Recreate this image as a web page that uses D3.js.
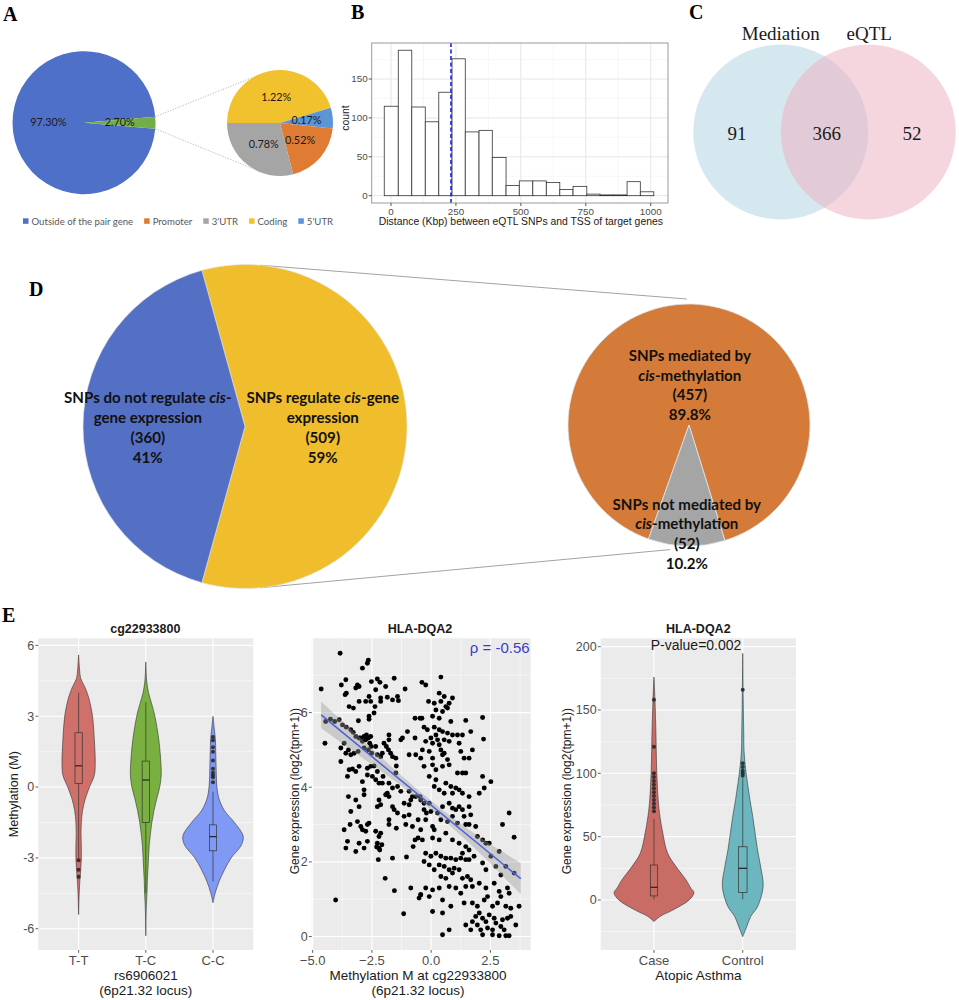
<!DOCTYPE html>
<html><head><meta charset="utf-8">
<script src="https://cdn.jsdelivr.net/npm/d3@7"></script>
<style>body{margin:0;background:#fff}svg{display:block}</style>
</head><body>
<svg id="chart" width="959" height="1000"></svg>
<script>
// ================= DATA =================
// Panel A
const aMainNames = ["Outside of the pair gene", "Inside the pair gene"];
const aMainValues = [97.30, 2.70];
const aSubNames = ["Coding", "5'UTR", "Promoter", "3'UTR"];
const aSubValues = [1.22, 0.17, 0.52, 0.78];
const aLegendNames = ["Outside of the pair gene", "Promoter", "3'UTR", "Coding", "5'UTR"];

// Panel B
const bBinEdges = [-26, 28, 80, 132, 184, 235, 286, 339, 390, 443, 494, 546, 598, 650, 701, 754, 805, 856, 909, 960, 1012];
const bCounts = [115, 187, 114, 95, 133, 176, 82, 84, 49, 13, 19, 19, 17, 8, 12, 2, 1, 1, 18, 5];
const bMedian = 231;
const bXTicks = [0, 250, 500, 750, 1000];
const bYTicks = [0, 50, 100, 150];

// Panel C
const cSetNames = ["Mediation", "eQTL"];
const cRegionCounts = [91, 366, 52];

// Panel D
const dMainValues = [509, 360];
const dMainNames = [
  [[["SNPs regulate ", 0], ["cis", 1], ["-gene", 0]], [["expression", 0]]],
  [[["SNPs do not regulate ", 0], ["cis", 1], ["-", 0]], [["gene expression", 0]]]
];
const dSubValues = [457, 52];
const dSubNames = [
  [[["SNPs mediated by", 0]], [["cis", 1], ["-methylation", 0]]],
  [[["SNPs not mediated by", 0]], [["cis", 1], ["-methylation", 0]]]
];

// Panel E left: violins (value, relative density)
const eGenotypes = ["T-T", "T-C", "C-C"];
const violinTT = [[5.6,0],[5.0,0.03],[4.6,0.07],[4.25,0.2],[3.8,0.33],[3.0,0.46],[2.0,0.52],[1.0,0.55],[0.5,0.52],[0,0.36],[-0.5,0.22],[-1,0.13],[-1.5,0.09],[-2,0.08],[-2.5,0.09],[-3,0.09],[-3.5,0.07],[-4,0.04],[-4.5,0.02],[-5.4,0]];
const violinTC = [[5.3,0],[4.5,0.03],[4.0,0.09],[3.5,0.2],[3.0,0.3],[2.0,0.43],[1.0,0.5],[0.5,0.51],[0,0.46],[-0.5,0.36],[-1,0.27],[-1.5,0.2],[-2,0.15],[-2.5,0.11],[-3,0.09],[-3.5,0.07],[-4,0.05],[-4.5,0.04],[-5,0.02],[-6.3,0]];
const violinCC = [[3.0,0],[2.5,0.04],[2.0,0.08],[1.5,0.09],[1.0,0.1],[0.5,0.11],[0,0.13],[-0.5,0.2],[-1,0.38],[-1.5,0.71],[-2,0.98],[-2.2,1.0],[-2.5,0.92],[-3,0.6],[-3.5,0.38],[-4,0.2],[-4.5,0.07],[-4.9,0]];
// box stats: [lower whisker, q1, median, q3, upper whisker]
const boxTT = [-3.0, 0.15, 0.9, 2.3, 4.0];
const boxTC = [-4.5, -1.5, 0.3, 1.1, 3.6];
const boxCC = [-4.0, -2.7, -2.1, -1.6, -0.2];
const outTT = [-3.1, -3.5, -3.8];
const outTC = [];
const outCC = [0.2, 0.42, 0.5, 0.61, 0.78, 1.13, 1.5, 1.69, 1.98, 2.12];
const eLeftYTicks = [-6, -3, 0, 3, 6];

// Panel E middle: scatter (methylation M, expression)
const eScatter = [
[-3.84,7.59],[-2.65,7.40],[-2.69,7.32],[-2.90,7.19],[-4.64,6.63],[-3.79,6.74],[-3.60,6.88],[-3.11,6.74],[-3.04,6.70],[-3.18,6.66],
[-2.52,6.83],[-2.27,6.90],[-2.16,6.81],[-2.34,6.61],[-1.92,6.70],[-1.56,6.92],[-1.10,6.63],[-3.58,6.52],[-3.63,6.48],[-2.62,6.43],
[-2.76,6.30],[-2.55,6.30],[-3.04,6.30],[-2.13,6.39],[-2.13,6.30],[-1.85,6.41],[-1.63,6.34],[-1.42,6.43],[-1.38,6.32],[-3.46,6.16],
[-3.28,6.12],[-2.37,6.16],[-2.41,5.99],[-2.62,5.90],[-2.62,5.82],[-0.68,5.85],[-0.47,5.85],[-3.07,5.78],[-4.25,5.82],[-4.45,5.76],
[-4.07,5.76],[-3.88,5.81],[-3.74,5.67],[-3.58,5.61],[-3.39,5.54],[-3.29,5.47],[-3.18,5.36],[-2.97,5.32],[-2.83,5.36],[-2.73,5.40],
[-2.65,5.32],[-2.55,5.36],[-2.76,5.27],[-2.59,5.18],[-2.53,5.09],[-2.90,5.23],[-3.04,5.32],[-1.78,5.40],[-1.78,5.27],[-1.28,5.27],
[-1.21,5.32],[-1.00,5.49],[-0.68,5.32],[-4.48,5.18],[-3.81,5.05],[-3.67,5.18],[-3.60,4.91],[-3.49,5.00],[-3.39,4.87],[-3.25,4.91],
[-3.08,4.96],[-2.83,5.05],[-2.65,5.00],[-2.51,4.91],[-2.34,5.09],[-2.27,4.87],[-2.13,4.82],[-2.06,4.91],[-1.99,5.18],[-1.89,5.09],
[-1.80,5.00],[-1.71,4.91],[-1.63,4.82],[-1.49,4.78],[-0.93,4.87],[-0.65,4.87],[-3.81,4.69],[-3.46,4.47],[-3.32,4.49],[-3.18,4.42],
[-3.53,4.29],[-3.04,4.56],[-2.69,4.51],[-2.55,4.56],[-2.41,4.57],[-2.27,4.42],[-2.69,4.33],[-2.48,4.29],[-2.90,4.15],[-2.34,4.20],
[-2.20,4.11],[-2.03,4.29],[-2.06,4.11],[-1.78,4.11],[-1.47,4.57],[-1.49,4.38],[-1.42,4.02],[-1.28,3.89],[-1.63,3.98],[-0.93,3.89],
[-0.65,3.75],[-0.47,3.75],[-3.49,3.75],[-3.18,3.66],[-2.83,3.93],[-2.83,3.80],[-3.04,3.48],[-3.39,3.35],[-1.92,3.80],[-1.78,3.75],
[-1.85,3.84],[-2.20,3.66],[-2.13,3.53],[-2.27,3.48],[-1.63,3.48],[-1.14,3.57],[-0.93,3.53],[-0.86,3.66],[-0.79,3.75],[-1.78,3.13],
[-1.56,3.40],[-1.42,3.31],[-1.14,3.22],[-0.93,3.26],[-3.11,3.08],[-2.97,2.95],[-2.90,2.86],[-2.76,2.82],[-2.69,3.00],[-2.62,3.04],
[-3.67,2.86],[-3.42,3.00],[-2.34,2.82],[-2.20,2.68],[-2.13,2.77],[-1.78,3.00],[-1.47,2.90],[-1.07,3.00],[-0.79,2.95],[-0.55,3.13],
[-0.44,2.86],[-3.53,2.55],[-3.60,2.37],[-3.18,2.28],[-3.04,2.50],[-2.83,2.37],[-2.69,2.55],[-2.27,2.50],[-2.20,2.37],[-2.08,2.46],
[-2.30,2.40],[-2.17,2.32],[-2.23,2.06],[-1.63,2.10],[-1.04,2.13],[-0.76,2.41],[-0.68,2.59],[-0.55,2.64],[-1.94,1.56],[-1.55,1.23],
[-0.86,1.30],[-0.51,1.03],[-0.44,1.12],[-4.03,0.98],[-1.16,0.61],
[-0.39,6.81],[-0.23,6.74],[0.41,6.95],[0.34,6.52],[0.55,6.43],[0.90,6.39],[-0.11,6.30],[0.13,6.25],[0.41,6.30],[0.76,6.25],
[0.62,6.16],[0.20,6.07],[0.48,6.03],[0.69,6.12],[-0.39,5.85],[0.06,5.90],[0.34,5.85],[0.83,5.76],[1.46,5.79],[2.17,5.87],
[-0.30,5.61],[-0.16,5.54],[0.13,5.61],[0.34,5.54],[0.48,5.49],[0.20,5.40],[-0.01,5.32],[0.69,5.45],[0.90,5.40],[1.11,5.40],
[1.32,5.40],[1.67,5.49],[2.21,5.29],[-0.23,5.23],[0.06,5.18],[0.27,5.27],[0.34,5.14],[0.55,5.27],[0.76,5.23],[1.18,5.18],
[-0.37,5.00],[-0.08,4.96],[0.41,5.00],[0.48,4.87],[0.55,4.91],[0.06,4.78],[1.25,4.96],[1.39,4.78],[1.60,4.78],[1.74,5.00],
[-0.44,4.78],[-0.30,4.56],[0.06,4.60],[0.20,4.47],[0.48,4.56],[0.76,4.60],[0.69,4.74],[1.11,4.38],[1.32,4.38],[1.46,4.38],
[2.17,4.29],[2.52,4.15],[-0.08,4.29],[0.20,4.20],[0.13,4.02],[0.34,3.93],[0.55,3.84],[0.62,4.11],[0.83,4.02],[0.90,3.84],
[1.04,3.98],[1.18,3.93],[1.32,3.84],[1.60,3.75],[2.03,3.84],[2.24,3.98],[-0.44,3.66],[-0.30,3.57],[-0.08,3.57],[-0.30,3.40],
[-0.20,3.31],[-0.01,3.35],[0.27,3.31],[0.48,3.48],[0.76,3.57],[0.90,3.44],[1.04,3.40],[1.18,3.48],[1.32,3.40],[1.60,3.48],
[1.67,3.26],[1.39,3.22],[0.90,3.22],[0.69,3.08],[-0.23,3.13],[0.06,2.95],[0.13,2.86],[0.41,3.13],[1.11,3.04],[1.46,3.00],
[1.60,3.00],[1.88,2.95],[1.95,2.68],[2.17,2.59],[2.31,2.50],[2.45,2.50],[3.29,3.31],[3.01,3.00],[3.50,2.66],[0.06,2.64],
[-0.37,2.59],[0.34,2.59],[0.62,2.77],[0.90,2.59],[1.18,2.50],[1.46,2.41],[1.60,2.32],[1.32,2.23],[-0.23,2.23],[-0.01,2.15],
[0.20,2.23],[0.41,2.15],[0.62,2.10],[0.83,2.10],[1.04,2.06],[1.25,2.10],[1.46,2.06],[-0.30,2.01],[-0.08,1.92],[0.13,1.79],
[0.34,1.92],[0.55,1.88],[0.76,1.79],[0.97,1.83],[1.18,1.79],[1.60,2.06],[1.81,2.15],[2.17,1.97],[2.52,2.15],[2.87,2.28],
[2.73,1.88],[2.31,1.79],[2.94,1.65],[3.15,1.88],[3.50,1.70],[0.41,1.61],[0.62,1.56],[0.90,1.70],[1.32,1.56],[1.53,1.61],
[1.67,1.52],[-0.23,1.30],[0.06,1.25],[0.34,1.30],[0.76,1.34],[1.04,1.30],[1.25,1.16],[1.46,1.34],[1.74,1.34],[2.03,1.43],
[2.31,1.30],[2.66,1.43],[2.87,1.21],[3.22,1.30],[3.29,1.16],[-0.44,1.12],[-0.08,1.07],[0.48,0.98],[0.83,0.81],[0.06,0.67],
[0.48,0.63],[1.39,0.90],[1.74,0.90],[1.95,0.81],[2.24,0.98],[2.38,1.07],[2.59,0.81],[2.80,0.90],[2.94,1.07],[3.15,0.81],
[3.36,0.76],[3.71,0.81],[1.46,0.31],[1.74,0.40],[1.88,0.54],[2.03,0.63],[2.17,0.49],[2.31,0.40],[2.45,0.58],[2.66,0.49],
[2.73,0.36],[3.01,0.45],[3.22,0.49],[3.36,0.54],[3.57,0.31],[1.67,0.18],[1.95,0.31],[2.09,0.18],[2.38,0.23],[2.59,0.18],
[2.94,0.27],[3.08,0.18],[0.48,0.05],[0.76,0.18],[2.17,0.05],[2.59,0.05],[2.87,0.02],[3.15,0.02],[3.29,0.02]
];
const eFitIntercept = 3.52, eFitSlope = -0.521, eFitRange = [-4.64, 3.78];
const eCiX = [-4.64, -3, -1.5, 0, 1.5, 3, 3.78];
const eCiHalf = [0.36, 0.25, 0.15, 0.12, 0.17, 0.32, 0.42];
const eRho = -0.56;
const eMidXTicks = [-5, -2.5, 0, 2.5];
const eMidYTicks = [0, 2, 4, 6];

// Panel E right: Atopic asthma violins
const eGroups = ["Case", "Control"];
const violinCase = [[176,0],[158,0.025],[131,0.05],[105,0.066],[79,0.106],[66,0.15],[53,0.22],[37,0.34],[26,0.56],[16,0.8],[9,0.93],[5.8,1.0],[0,0.88],[-8,0.47],[-13,0.15],[-17,0]];
const violinControl = [[194.7,0],[158,0.012],[131,0.025],[118,0.032],[105,0.066],[92,0.12],[79,0.18],[66,0.25],[52.6,0.31],[39.5,0.37],[26,0.45],[10.5,0.51],[-5.3,0.37],[-13,0.2],[-21,0.1],[-29,0]];
const boxCase = [0.5, 3.2, 10, 27.6, 64];
const boxControl = [0.5, 5.8, 25, 42, 96];
const outCase = [158, 121, 100, 97, 94, 91, 88, 85, 82, 79, 76, 73, 70];
const outControl = [166, 108, 105, 102, 100, 98];
const eRightYTicks = [0, 50, 100, 150, 200];
const ePValue = "0.002";

// ================= DRAW =================
const svg = d3.select("#chart");
const serif = "'Liberation Serif','Times New Roman',serif";
const sans = "'Liberation Sans',Arial,sans-serif";
const cal = "Lato,'Noto Sans',sans-serif";
const deg = Math.PI / 180;

function txt(g, x, y, s, o = {}) {
  const t = g.append("text").attr("x", x).attr("y", y).text(s)
    .attr("font-family", o.ff || sans).attr("font-size", o.fs || 12)
    .attr("fill", o.fill || "#1a1a1a").attr("text-anchor", o.anchor || "middle");
  if (o.fw) t.attr("font-weight", o.fw);
  return t;
}

// Panel letters
[["A",3,21],["B",351,19],["C",689,19],["D",29,296],["E",2,622]].forEach(([l,x,y]) =>
  txt(svg, x, y, l, {ff: serif, fs: 20, fw: "bold", anchor: "start", fill: "#000"}));

// ---------- Panel A ----------
(function(){
  const g = svg.append("g");
  const mainC = [84, 122.7], mainR = 71.5;
  const subC = [280, 123], subR = 53;
  const mainColors = ["#4f70c8", "#72ad47"];
  const subColors = ["#f2c12e", "#5b95d6", "#e07b34", "#a5a5a5"];
  const total = d3.sum(aMainValues);
  const st = Math.PI / 2 + (aMainValues[1] / total) * Math.PI;
  const pm = d3.pie().sort(null).startAngle(st).endAngle(st + 2 * Math.PI)(aMainValues);
  const arcM = d3.arc().innerRadius(0).outerRadius(mainR);
  const gm = g.append("g").attr("transform", `translate(${mainC})`);
  gm.selectAll("path").data(pm).join("path").attr("d", arcM).attr("fill", (d,i) => mainColors[i]);
  gm.selectAll("text").data(pm).join("text")
    .attr("transform", d => `translate(${arcM.centroid(d)})`).attr("dy", "0.35em")
    .attr("text-anchor", "middle").attr("font-family", cal).attr("font-size", 10.8).attr("fill", "#1a1a1a")
    .text(d => d3.format(".2f")(d.value) + "%");
  const ps = d3.pie().sort(null).startAngle(-Math.PI / 2).endAngle(1.5 * Math.PI)(aSubValues);
  const arcS = d3.arc().innerRadius(0).outerRadius(subR);
  const gs = g.append("g").attr("transform", `translate(${subC})`);
  gs.selectAll("path").data(ps).join("path").attr("d", arcS).attr("fill", (d,i) => subColors[i]);
  gs.selectAll("text").data(ps).join("text")
    .attr("transform", d => `translate(${arcS.centroid(d)})`).attr("dy", "0.35em")
    .attr("text-anchor", "middle").attr("font-family", cal).attr("font-size", 10.8).attr("fill", "#1a1a1a")
    .text(d => d3.format(".2f")(d.value) + "%");
  // connector dotted lines
  const gEdge = pm[1];
  [[gEdge.startAngle, 330], [gEdge.endAngle, 210]].forEach(([a1, a2d]) => {
    const a2 = a2d * deg;
    g.append("line")
      .attr("x1", mainC[0] + Math.sin(a1) * mainR).attr("y1", mainC[1] - Math.cos(a1) * mainR)
      .attr("x2", subC[0] + Math.sin(a2) * subR).attr("y2", subC[1] - Math.cos(a2) * subR)
      .attr("stroke", "#a6a6a6").attr("stroke-width", 0.8).attr("stroke-dasharray", "1.2,1.5");
  });
  // legend
  const legColor = {"Outside of the pair gene": mainColors[0], "Promoter": subColors[2], "3'UTR": subColors[3], "Coding": subColors[0], "5'UTR": subColors[1]};
  let lx = 23;
  aLegendNames.forEach(n => {
    g.append("rect").attr("x", lx).attr("y", 218.3).attr("width", 5.5).attr("height", 5.5).attr("fill", legColor[n]);
    const t = txt(g, lx + 8.5, 224.5, n, {ff: cal, fs: 9.6, anchor: "start", fill: "#595959"});
    lx += 8.5 + t.node().getComputedTextLength() + 11;
  });
})();

// ---------- Panel B ----------
(function(){
  const g = svg.append("g");
  const L = 371.7, R = 668, T = 43, B = 203;
  const x = d3.scaleLinear().domain([-74.3, 1066.6]).range([L, R]);
  const y = d3.scaleLinear().domain([-9.4, 196.3]).range([B, T]);
  g.append("rect").attr("x", L).attr("y", T).attr("width", R - L).attr("height", B - T).attr("fill", "#fff");
  const xMinor = [125, 375, 625, 875], yMinor = [25, 75, 125, 175];
  xMinor.forEach(v => g.append("line").attr("x1", x(v)).attr("x2", x(v)).attr("y1", T).attr("y2", B).attr("stroke", "#f2f2f2").attr("stroke-width", 0.6));
  yMinor.forEach(v => g.append("line").attr("x1", L).attr("x2", R).attr("y1", y(v)).attr("y2", y(v)).attr("stroke", "#f2f2f2").attr("stroke-width", 0.6));
  bXTicks.forEach(v => g.append("line").attr("x1", x(v)).attr("x2", x(v)).attr("y1", T).attr("y2", B).attr("stroke", "#e6e6e6").attr("stroke-width", 1));
  bYTicks.forEach(v => g.append("line").attr("x1", L).attr("x2", R).attr("y1", y(v)).attr("y2", y(v)).attr("stroke", "#e6e6e6").attr("stroke-width", 1));
  g.selectAll("rect.bar").data(bCounts).join("rect").attr("class", "bar")
    .attr("x", (d,i) => x(bBinEdges[i])).attr("width", (d,i) => x(bBinEdges[i+1]) - x(bBinEdges[i]))
    .attr("y", d => y(d)).attr("height", d => y(0) - y(d))
    .attr("fill", "#fff").attr("stroke", "#333").attr("stroke-width", 0.8);
  g.append("line").attr("x1", x(bMedian)).attr("x2", x(bMedian)).attr("y1", T).attr("y2", B)
    .attr("stroke", "#1f1fe6").attr("stroke-width", 1.6).attr("stroke-dasharray", "4,2.5");
  g.append("rect").attr("x", L).attr("y", T).attr("width", R - L).attr("height", B - T).attr("fill", "none").attr("stroke", "#9a9a9a").attr("stroke-width", 1);
  bXTicks.forEach(v => {
    g.append("line").attr("x1", x(v)).attr("x2", x(v)).attr("y1", B).attr("y2", B + 3).attr("stroke", "#555");
    txt(g, x(v), B + 11.5, v, {fs: 9.8, fill: "#4d4d4d"});
  });
  bYTicks.forEach(v => {
    g.append("line").attr("x1", L - 3).attr("x2", L).attr("y1", y(v)).attr("y2", y(v)).attr("stroke", "#555");
    txt(g, L - 4, y(v) + 3.4, v, {fs: 9.8, fill: "#4d4d4d", anchor: "end"});
  });
  txt(g, (L + R) / 2 + 1, 224.5, "Distance (Kbp) between eQTL SNPs and TSS of target genes", {fs: 10.4});
  txt(g, 0, 0, "count", {fs: 10.4}).attr("transform", `translate(348.5,${(T + B) / 2 - 5}) rotate(-90)`);
})();

// ---------- Panel C ----------
(function(){
  const g = svg.append("g");
  const cy = 132, r = 87.5;
  const centers = [780.8, 868.3];
  const fills = ["#add1df", "#edadbd"];
  centers.forEach((cx, i) => g.append("circle").attr("cx", cx).attr("cy", cy).attr("r", r).attr("fill", fills[i]).attr("fill-opacity", 0.5));
  cSetNames.forEach((n, i) => txt(g, centers[i] + (i ? 1 : 0), 40, n, {ff: serif, fs: 19}));
  const pos = [737, 826.7, 912];
  cRegionCounts.forEach((v, i) => txt(g, pos[i], 139.5, v, {ff: serif, fs: 19}));
})();

// ---------- Panel D ----------
function blockText(g, cx, cy, lines, lh, fs) {
  const n = lines.length;
  lines.forEach((parts, k) => {
    const t = g.append("text").attr("x", cx).attr("y", cy + (k - (n - 1) / 2) * lh).attr("dy", "0.35em")
      .attr("text-anchor", "middle").attr("font-family", cal).attr("font-size", fs).attr("font-weight", "bold").attr("fill", "#111");
    parts.forEach(([s, it]) => t.append("tspan").text(s).attr("font-style", it ? "italic" : "normal"));
  });
}
(function(){
  const g = svg.append("g");
  const C1 = [245, 426.5], R1 = 162;
  const C2 = [689, 425], R2 = 121;
  // connectors
  [[5.3, 359], [174.7, 188.6]].forEach(([a, b]) => {
    g.append("line")
      .attr("x1", C1[0] + Math.sin(a * deg) * R1).attr("y1", C1[1] - Math.cos(a * deg) * R1)
      .attr("x2", C2[0] + Math.sin(b * deg) * (R2 + (b > 180 ? 5 : 0))).attr("y2", C2[1] - Math.cos(b * deg) * (R2 + (b > 180 ? 5 : 0)))
      .attr("stroke", "#a3a3a3").attr("stroke-width", 1);
  });
  const tot1 = d3.sum(dMainValues);
  const s1 = -(dMainValues[0] / tot1) * Math.PI + Math.PI / 2;
  const p1 = d3.pie().sort(null).startAngle(s1).endAngle(s1 + 2 * Math.PI)(dMainValues);
  const arc1 = d3.arc().innerRadius(0).outerRadius(R1);
  const g1 = g.append("g").attr("transform", `translate(${C1})`);
  const col1 = ["#f0be2d", "#5470c4"];
  g1.selectAll("path").data(p1).join("path").attr("d", arc1).attr("fill", (d,i) => col1[i]).attr("stroke", "#e3e3e3").attr("stroke-width", 0.6);
  const lr1 = [0.48, 0.6];
  p1.forEach((d, i) => {
    const a = (d.startAngle + d.endAngle) / 2, rr = lr1[i] * R1;
    const lines = dMainNames[i].concat([[["(" + d.value + ")", 0]], [[d3.format(".0f")(d.value / tot1 * 100) + "%", 0]]]);
    blockText(g1, Math.sin(a) * rr, -Math.cos(a) * rr + 1.5, lines, 20, 15.1);
  });
  const tot2 = d3.sum(dSubValues);
  const s2 = Math.PI + (dSubValues[1] / tot2) * Math.PI + 0.02;
  const p2 = d3.pie().sort(null).startAngle(s2).endAngle(s2 + 2 * Math.PI)(dSubValues);
  const arc2 = d3.arc().innerRadius(0).outerRadius(R2);
  const g2 = g.append("g").attr("transform", `translate(${C2})`);
  const col2 = ["#d57b39", "#a5a5a5"];
  g2.selectAll("path").data(p2).join("path").attr("d", arc2).attr("fill", (d,i) => col2[i]).attr("stroke", "#dde6ee").attr("stroke-width", 0.8);
  const lr2 = [0.33, 0.9];
  p2.forEach((d, i) => {
    const a = (d.startAngle + d.endAngle) / 2, rr = lr2[i] * R2;
    const lines = dSubNames[i].concat([[["(" + d.value + ")", 0]], [[d3.format(".1f")(d.value / tot2 * 100) + "%", 0]]]);
    blockText(g2, Math.sin(a) * rr, -Math.cos(a) * rr, lines, 19.7, 15.1);
  });
})();

// ---------- Panel E helpers ----------
const PT = 638.3, PB = 950;
function ggBg(g, L, R) {
  g.append("rect").attr("x", L).attr("y", PT).attr("width", R - L).attr("height", PB - PT).attr("fill", "#ebebeb");
}
function hline(g, L, R, yv, w) { g.append("line").attr("x1", L).attr("x2", R).attr("y1", yv).attr("y2", yv).attr("stroke", "#fff").attr("stroke-width", w); }
function vline(g, xv, w) { g.append("line").attr("x1", xv).attr("x2", xv).attr("y1", PT).attr("y2", PB).attr("stroke", "#fff").attr("stroke-width", w); }
function yTicks(g, L, y, ticks, fmt) {
  ticks.forEach(v => {
    g.append("line").attr("x1", L - 2.8).attr("x2", L).attr("y1", y(v)).attr("y2", y(v)).attr("stroke", "#333").attr("stroke-width", 0.8);
    txt(g, L - 4, y(v) + 4.3, fmt(v), {fs: 12.5, fill: "#4d4d4d", anchor: "end"});
  });
}
function xTicks(g, x, ticks, fmt) {
  ticks.forEach(v => {
    g.append("line").attr("x1", x(v)).attr("x2", x(v)).attr("y1", PB).attr("y2", PB + 2.8).attr("stroke", "#333").attr("stroke-width", 0.8);
    txt(g, x(v), PB + 14.5, fmt(v), {fs: 13, fill: "#4d4d4d"});
  });
}
function violin(g, cx, data, wScale, y, fill) {
  const area = d3.area().curve(d3.curveCatmullRom.alpha(0.5))
    .y(d => y(d[0])).x0(d => cx - wScale(d[1])).x1(d => cx + wScale(d[1]));
  g.append("path").attr("d", area(data)).attr("fill", fill).attr("stroke", "#333").attr("stroke-width", 0.6);
}
function boxplot(g, cx, bw, st, outs, y) {
  const [lo, q1, md, q3, hi] = st;
  g.append("line").attr("x1", cx).attr("x2", cx).attr("y1", y(hi)).attr("y2", y(q3)).attr("stroke", "#333").attr("stroke-width", 0.7);
  g.append("line").attr("x1", cx).attr("x2", cx).attr("y1", y(q1)).attr("y2", y(lo)).attr("stroke", "#333").attr("stroke-width", 0.7);
  g.append("rect").attr("x", cx - bw / 2).attr("y", y(q3)).attr("width", bw).attr("height", y(q1) - y(q3)).attr("fill", "none").attr("stroke", "#333").attr("stroke-width", 0.7);
  g.append("line").attr("x1", cx - bw / 2).attr("x2", cx + bw / 2).attr("y1", y(md)).attr("y2", y(md)).attr("stroke", "#222").attr("stroke-width", 1.2);
  outs.forEach(v => g.append("circle").attr("cx", cx).attr("cy", y(v)).attr("r", 2).attr("fill", "#222").attr("fill-opacity", 0.85));
}

// ---------- Panel E left ----------
(function(){
  const g = svg.append("g");
  const L = 38.3, R = 253.3;
  const x = d3.scalePoint().domain(eGenotypes).range([L, R]).padding(0.6);
  const y = d3.scaleLinear().domain([-6.9, 6.3]).range([PB, PT]);
  ggBg(g, L, R);
  [-4.5, -1.5, 1.5, 4.5].forEach(v => hline(g, L, R, y(v), 0.5));
  eLeftYTicks.forEach(v => hline(g, L, R, y(v), 1.1));
  eGenotypes.forEach(c => vline(g, x(c), 1.1));
  const w = d3.scaleLinear().domain([0, 1]).range([0, 0.45 * x.step()]);
  const cols = ["#d0706a", "#79b041", "#7f99f5"];
  const vs = [violinTT, violinTC, violinCC], bs = [boxTT, boxTC, boxCC], os = [outTT, outTC, outCC];
  eGenotypes.forEach((c, i) => {
    violin(g, x(c), vs[i], w, y, cols[i]);
    boxplot(g, x(c), 0.108 * x.step(), bs[i], os[i], y);
  });
  yTicks(g, L, y, eLeftYTicks, d => d);
  eGenotypes.forEach(c => {
    g.append("line").attr("x1", x(c)).attr("x2", x(c)).attr("y1", PB).attr("y2", PB + 2.8).attr("stroke", "#333").attr("stroke-width", 0.8);
    txt(g, x(c), PB + 14.5, c, {fs: 13, fill: "#4d4d4d"});
  });
  txt(g, (L + R) / 2 - 0.5, 632.5, "cg22933800", {fs: 12.5, fw: "bold"});
  txt(g, (L + R) / 2, 980, "rs6906021", {fs: 13.5});
  txt(g, (L + R) / 2, 995, "(6p21.32 locus)", {fs: 13.5});
  txt(g, 0, 0, "Methylation (M)", {fs: 12.5}).attr("transform", `translate(17.5,${(PT + PB) / 2}) rotate(-90)`);
})();

// ---------- Panel E middle ----------
(function(){
  const g = svg.append("g");
  const L = 311.7, R = 530.7;
  const x = d3.scaleLinear().domain([-5.04, 4.2]).range([L, R]);
  const y = d3.scaleLinear().domain([-0.36, 7.99]).range([PB, PT]);
  ggBg(g, L, R);
  [1, 3, 5, 7].forEach(v => hline(g, L, R, y(v), 0.5));
  [-3.75, -1.25, 1.25, 3.75].forEach(v => vline(g, x(v), 0.5));
  eMidYTicks.forEach(v => hline(g, L, R, y(v), 1.1));
  eMidXTicks.forEach(v => vline(g, x(v), 1.1));
  g.selectAll("circle.pt").data(eScatter).join("circle").attr("class", "pt")
    .attr("cx", d => x(d[0])).attr("cy", d => y(d[1])).attr("r", 2.45).attr("fill", "#000");
  const fit = v => eFitIntercept + eFitSlope * v;
  const band = d3.area().curve(d3.curveMonotoneX).x(d => x(d[0])).y0(d => y(fit(d[0]) - d[1])).y1(d => y(fit(d[0]) + d[1]));
  g.append("path").attr("d", band(eCiX.map((v, i) => [v, eCiHalf[i]]))).attr("fill", "#999").attr("fill-opacity", 0.4);
  g.append("line").attr("x1", x(eFitRange[0])).attr("y1", y(fit(eFitRange[0])))
    .attr("x2", x(eFitRange[1])).attr("y2", y(fit(eFitRange[1]))).attr("stroke", "#4a5fd8").attr("stroke-width", 1.5);
  yTicks(g, L, y, eMidYTicks, d => d);
  xTicks(g, x, eMidXTicks, d3.format(".1f"));
  txt(g, 420, 632.5, "HLA-DQA2", {fs: 12.5, fw: "bold"});
  txt(g, R - 1, 652.5, "\u03c1 = " + eRho, {fs: 15, fill: "#3c3cc8", anchor: "end"});
  txt(g, 418, 980, "Methylation M at cg22933800", {fs: 13.5});
  txt(g, 418, 995, "(6p21.32 locus)", {fs: 13.5});
  txt(g, 0, 0, "Gene expression (log2(tpm+1))", {fs: 12}).attr("transform", `translate(299,${(PT + PB) / 2 - 3}) rotate(-90)`);
})();

// ---------- Panel E right ----------
(function(){
  const g = svg.append("g");
  const L = 600.7, R = 796;
  const x = d3.scalePoint().domain(eGroups).range([L, R]).padding(0.6);
  const y = d3.scaleLinear().domain([-39.5, 206.6]).range([PB, PT]);
  ggBg(g, L, R);
  [-25, 25, 75, 125, 175].forEach(v => hline(g, L, R, y(v), 0.5));
  eRightYTicks.forEach(v => hline(g, L, R, y(v), 1.1));
  eGroups.forEach(c => vline(g, x(c), 1.1));
  const w = d3.scaleLinear().domain([0, 1]).range([0, 0.45 * x.step()]);
  const cols = ["#c96c66", "#6cb6bf"];
  const vs = [violinCase, violinControl], bs = [boxCase, boxControl], os = [outCase, outControl];
  eGroups.forEach((c, i) => {
    violin(g, x(c), vs[i], w, y, cols[i]);
    boxplot(g, x(c), (i ? 0.097 : 0.082) * x.step(), bs[i], os[i], y);
  });
  yTicks(g, L, y, eRightYTicks, d => d);
  eGroups.forEach(c => {
    g.append("line").attr("x1", x(c)).attr("x2", x(c)).attr("y1", PB).attr("y2", PB + 2.8).attr("stroke", "#333").attr("stroke-width", 0.8);
    txt(g, x(c), PB + 14.5, c, {fs: 13, fill: "#4d4d4d"});
  });
  txt(g, 698.3, 632.5, "HLA-DQA2", {fs: 12.5, fw: "bold"});
  txt(g, 696, 650, "P-value=" + ePValue, {fs: 14});
  txt(g, 698.3, 980, "Atopic Asthma", {fs: 13.5});
  txt(g, 0, 0, "Gene expression (log2(tpm+1))", {fs: 12}).attr("transform", `translate(570.5,${(PT + PB) / 2 - 3}) rotate(-90)`);
})();
</script>
</body></html>
